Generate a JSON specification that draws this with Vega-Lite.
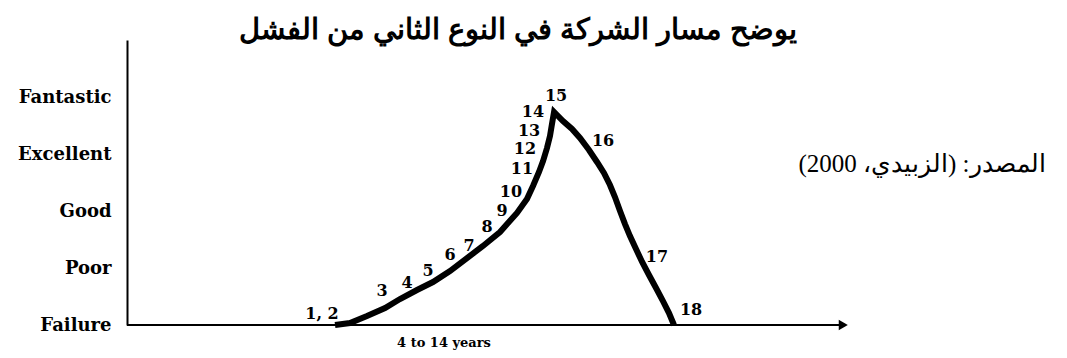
{
  "$schema": "https://vega.github.io/schema/vega-lite/v6.json",
  "width": 940,
  "height": 285,
  "autosize": {"type": "none"},
  "padding": {"left": 127, "top": 40, "right": 0, "bottom": 33},
  "background": "white",
  "config": {"view": {"stroke": null}},
  "title": {
    "text": "يوضح مسار الشركة في النوع الثاني من الفشل",
    "font": "Liberation Sans",
    "fontSize": 29,
    "fontWeight": "bold",
    "color": "black",
    "anchor": "middle",
    "frame": "group",
    "dx": -79,
    "dy": 27,
    "baseline": "middle",
    "offset": 8
  },
  "datasets": {
    "curve": [
      {"o": 1, "x": 22.13, "y": 0},
      {"o": 2, "x": 23.72, "y": 0.035},
      {"o": 3, "x": 25.53, "y": 0.158},
      {"o": 4, "x": 27.45, "y": 0.298},
      {"o": 5, "x": 29.04, "y": 0.456},
      {"o": 6, "x": 30.85, "y": 0.614},
      {"o": 7, "x": 32.55, "y": 0.754},
      {"o": 8, "x": 34.36, "y": 0.947},
      {"o": 9, "x": 36.17, "y": 1.175},
      {"o": 10, "x": 37.87, "y": 1.386},
      {"o": 11, "x": 39.68, "y": 1.632},
      {"o": 12, "x": 41.49, "y": 1.965},
      {"o": 13, "x": 42.55, "y": 2.211},
      {"o": 14, "x": 43.19, "y": 2.439},
      {"o": 15, "x": 43.83, "y": 2.684},
      {"o": 16, "x": 44.26, "y": 2.877},
      {"o": 17, "x": 44.68, "y": 3.105},
      {"o": 18, "x": 45.0, "y": 3.316},
      {"o": 19, "x": 45.21, "y": 3.526},
      {"o": 20, "x": 45.43, "y": 3.737},
      {"o": 21, "x": 46.38, "y": 3.579},
      {"o": 22, "x": 47.34, "y": 3.439},
      {"o": 23, "x": 48.19, "y": 3.281},
      {"o": 24, "x": 49.15, "y": 3.07},
      {"o": 25, "x": 50.0, "y": 2.86},
      {"o": 26, "x": 50.74, "y": 2.667},
      {"o": 27, "x": 51.38, "y": 2.456},
      {"o": 28, "x": 51.91, "y": 2.246},
      {"o": 29, "x": 52.45, "y": 2.0},
      {"o": 30, "x": 52.98, "y": 1.77},
      {"o": 31, "x": 53.51, "y": 1.56},
      {"o": 32, "x": 54.15, "y": 1.333},
      {"o": 33, "x": 54.8, "y": 1.105},
      {"o": 34, "x": 55.53, "y": 0.877},
      {"o": 35, "x": 56.28, "y": 0.65},
      {"o": 36, "x": 57.02, "y": 0.42},
      {"o": 37, "x": 57.66, "y": 0.21},
      {"o": 38, "x": 58.19, "y": 0}
    ],
    "stages": [
      {"label": "1, 2", "x": 20.74, "y": 0.193},
      {"label": "3", "x": 27.13, "y": 0.596},
      {"label": "4", "x": 29.79, "y": 0.737},
      {"label": "5", "x": 32.02, "y": 0.947},
      {"label": "6", "x": 34.36, "y": 1.228},
      {"label": "7", "x": 36.38, "y": 1.386},
      {"label": "8", "x": 38.3, "y": 1.719},
      {"label": "9", "x": 39.89, "y": 2.0},
      {"label": "10", "x": 40.85, "y": 2.333},
      {"label": "11", "x": 42.02, "y": 2.737},
      {"label": "12", "x": 42.34, "y": 3.088},
      {"label": "13", "x": 42.77, "y": 3.404},
      {"label": "14", "x": 43.19, "y": 3.737},
      {"label": "15", "x": 45.64, "y": 4.018},
      {"label": "16", "x": 50.64, "y": 3.228},
      {"label": "17", "x": 56.38, "y": 1.193},
      {"label": "18", "x": 60.0, "y": 0.263}
    ],
    "baseline": [{"x": 0, "x2": 76, "y": 0}],
    "arrow": [{"x": 76.2, "y": 0}],
    "xtitle": [{"label": "4 to 14 years", "x": 33.72, "y": -0.316}],
    "source": [{"label": "المصدر: (الزبيدي، 2000)", "x": 84.57, "y": 2.825}]
  },
  "encoding": {
    "x": {"field": "x", "type": "quantitative", "scale": {"domain": [0, 100]}, "axis": null},
    "y": {
      "field": "y",
      "type": "quantitative",
      "scale": {"domain": [0, 5]},
      "axis": {
        "values": [0, 1, 2, 3, 4],
        "labelExpr": "['Failure','Poor','Good','Excellent','Fantastic'][datum.value]",
        "ticks": false,
        "grid": false,
        "title": null,
        "domainColor": "black",
        "domainWidth": 2,
        "labelFont": "DejaVu Serif",
        "labelFontWeight": "bold",
        "labelFontSize": 18,
        "labelColor": "black",
        "labelPadding": 16
      }
    }
  },
  "layer": [
    {
      "data": {"name": "baseline"},
      "mark": {"type": "rule", "color": "black", "strokeWidth": 2},
      "encoding": {"x2": {"field": "x2"}}
    },
    {
      "data": {"name": "curve"},
      "mark": {"type": "line", "color": "black", "strokeWidth": 6, "strokeJoin": "miter", "strokeCap": "butt"},
      "encoding": {"order": {"field": "o", "type": "quantitative"}}
    },
    {
      "data": {"name": "arrow"},
      "mark": {"type": "point", "shape": "triangle-right", "filled": true, "color": "black", "size": 110, "opacity": 1}
    },
    {
      "data": {"name": "stages"},
      "mark": {"type": "text", "font": "DejaVu Serif", "fontWeight": "bold", "fontSize": 16, "color": "black", "align": "center", "baseline": "middle"},
      "encoding": {"text": {"field": "label"}}
    },
    {
      "data": {"name": "xtitle"},
      "mark": {"type": "text", "font": "DejaVu Serif", "fontWeight": "bold", "fontSize": 13, "color": "black", "align": "center", "baseline": "middle"},
      "encoding": {"text": {"field": "label"}}
    },
    {
      "data": {"name": "source"},
      "mark": {"type": "text", "font": "Liberation Serif", "fontSize": 25, "color": "black", "align": "center", "baseline": "middle"},
      "encoding": {"text": {"field": "label"}}
    }
  ]
}
